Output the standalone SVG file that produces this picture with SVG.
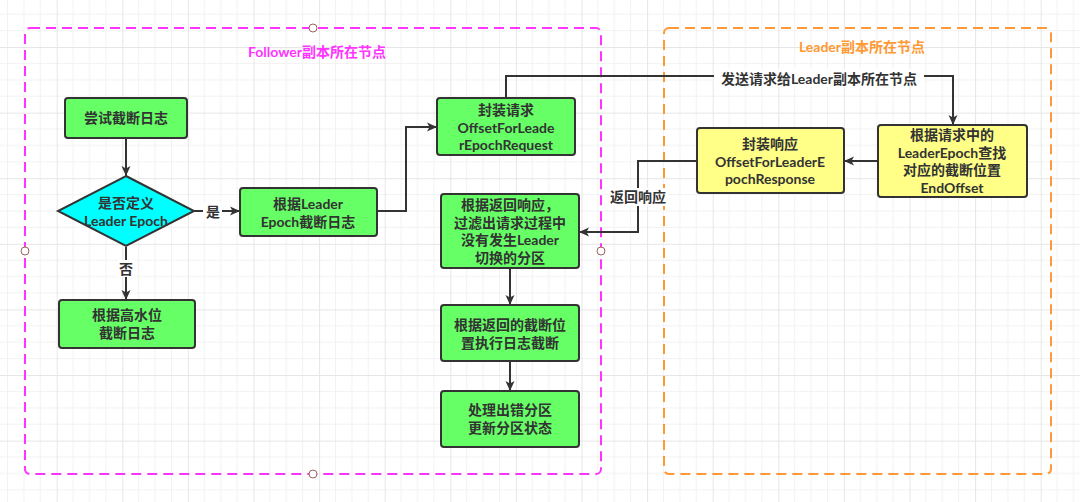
<svg xmlns="http://www.w3.org/2000/svg" width="1080" height="502" viewBox="0 0 1080 502">
<defs>
<pattern id="grid" x="-8.9" y="-18.6" width="65.6" height="65.6" patternUnits="userSpaceOnUse">
<path d="M16.4,0V65.6M32.8,0V65.6M49.2,0V65.6M0,16.4H65.6M0,32.8H65.6M0,49.2H65.6" stroke="#f2f2f2" stroke-width="1" fill="none"/>
<path d="M0.5,0V65.6M0,0.5H65.6" stroke="#e6e6e6" stroke-width="1" fill="none"/>
</pattern>
<marker id="arr" markerUnits="userSpaceOnUse" markerWidth="12" markerHeight="10" refX="10" refY="5" orient="auto">
<path d="M0,0.5 L10,5 L0,9.5 L2.5,5 z" fill="#333"/>
</marker>
<style>
.nd{stroke:#333;stroke-width:2}
.g{fill:#66ff66}
.y{fill:#ffff88}
.c{fill:#00ffff}
text{font-family:Lato,"Noto Sans CJK SC",sans-serif;font-size:14px;font-weight:bold;fill:#333;text-anchor:middle}
.ln{fill:none;stroke:#333;stroke-width:2}
.lb{fill:#fff}
.h{fill:#fff;stroke:#a06060;stroke-width:1}
</style>
</defs>
<rect width="1080" height="502" fill="#fff"/>
<rect width="1080" height="502" fill="url(#grid)"/>

<g id="follower-zone">
<rect x="25" y="28" width="576" height="446" rx="5" fill="none" stroke="#ff33ff" stroke-width="2" stroke-dasharray="10,6"/>
<text x="317" y="57" style="fill:#ff33ff">Follower副本所在节点</text>
<circle class="h" cx="313" cy="28" r="4"/>
<circle class="h" cx="25" cy="251" r="4"/>
<circle class="h" cx="601" cy="251" r="4"/>
<circle class="h" cx="313" cy="474" r="4"/>
</g>
<g id="leader-zone">
<rect x="664" y="28" width="387" height="446" rx="5" fill="none" stroke="#ff9933" stroke-width="2" stroke-dasharray="10,6"/>
<text x="862" y="52" style="fill:#ff9933">Leader副本所在节点</text>
</g>

<g id="connectors">
<path class="ln" d="M126,139V176" marker-end="url(#arr)"/>
<path class="ln" d="M194,211H240" marker-end="url(#arr)"/>
<path class="ln" d="M126,247V300" marker-end="url(#arr)"/>
<path class="ln" d="M377,211H406V127H437" marker-end="url(#arr)"/>
<path class="ln" d="M506,98V76H953V125" marker-end="url(#arr)"/>
<path class="ln" d="M878,161H844" marker-end="url(#arr)"/>
<path class="ln" d="M697,161H638V232H579" marker-end="url(#arr)"/>
<path class="ln" d="M510,268V305" marker-end="url(#arr)"/>
<path class="ln" d="M510,361V391" marker-end="url(#arr)"/>
<rect class="lb" x="203" y="203" width="19" height="17"/>
<text x="213" y="217">是</text>
<rect class="lb" x="117" y="260" width="18" height="17"/>
<text x="126" y="274">否</text>
<rect class="lb" x="714" y="69" width="210" height="18"/>
<text x="819" y="84">发送请求给Leader副本所在节点</text>
<rect class="lb" x="608" y="188" width="60" height="18"/>
<text x="638" y="202">返回响应</text>
</g>

<g id="n1"><rect class="nd g" x="65" y="98" width="122" height="40" rx="3"/><text x="126" y="123">尝试截断日志</text></g>
<g id="n2"><path class="nd c" d="M126,176L194,211L126,246L58,211z"/><text x="126" y="208">是否定义<tspan x="126" dy="18">Leader Epoch</tspan></text></g>
<g id="n3"><rect class="nd g" x="240" y="188" width="137" height="48" rx="3"/><text x="308" y="209">根据Leader<tspan x="308" dy="18">Epoch截断日志</tspan></text></g>
<g id="n4"><rect class="nd g" x="59" y="300" width="136" height="48" rx="3"/><text x="127" y="320">根据高水位<tspan x="127" dy="18">截断日志</tspan></text></g>
<g id="n5"><rect class="nd g" x="437" y="98" width="138" height="57" rx="3"/><text x="506" y="115">封装请求<tspan x="506" dy="17.5">OffsetForLeade</tspan><tspan x="506" dy="17.5">rEpochRequest</tspan></text></g>
<g id="n6"><rect class="nd g" x="441" y="194" width="138" height="74" rx="3"/><text x="510" y="210">根据返回响应，<tspan x="510" dy="17.5">过滤出请求过程中</tspan><tspan x="510" dy="17.5">没有发生Leader</tspan><tspan x="510" dy="17.5">切换的分区</tspan></text></g>
<g id="n7"><rect class="nd g" x="441" y="305" width="138" height="56" rx="3"/><text x="510" y="330">根据返回的截断位<tspan x="510" dy="17.5">置执行日志截断</tspan></text></g>
<g id="n8"><rect class="nd g" x="441" y="391" width="138" height="56" rx="3"/><text x="510" y="415">处理出错分区<tspan x="510" dy="18">更新分区状态</tspan></text></g>
<g id="n9"><rect class="nd y" x="697" y="128" width="147" height="65" rx="3"/><text x="770" y="149">封装响应<tspan x="770" dy="17.5">OffsetForLeaderE</tspan><tspan x="770" dy="17.5">pochResponse</tspan></text></g>
<g id="n10"><rect class="nd y" x="878" y="125" width="149" height="72" rx="3"/><text x="952" y="140">根据请求中的<tspan x="952" dy="17.5">LeaderEpoch查找</tspan><tspan x="952" dy="17.5">对应的截断位置</tspan><tspan x="952" dy="17.5">EndOffset</tspan></text></g>
</svg>
